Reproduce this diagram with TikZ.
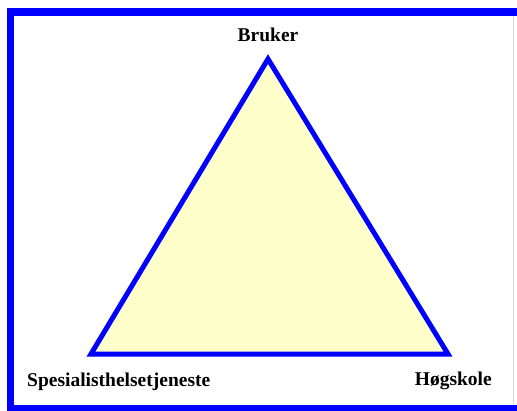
\documentclass[tikz,border=0pt]{standalone}
\usepackage{fontspec}
\setmainfont{Liberation Serif}
\usetikzlibrary{positioning}
\definecolor{rimblue}{HTML}{0000FF}
\definecolor{paleyellow}{HTML}{FFFFCC}
\tikzset{
  rim/.style   ={draw=rimblue,line width=7.5pt},
  tri/.style   ={draw=rimblue,line width=5pt,line join=miter,fill=paleyellow},
  corner/.style={font=\fontsize{19.5}{22}\selectfont\bfseries,inner sep=0pt}
}

\begin{document}
\begin{tikzpicture}[x=1pt,y=-1pt]
    \useasboundingbox (0,0) rectangle (517,410);
    % outer frame
    \coordinate (tl) at (10.5,12);
    \coordinate (br) at (540,409);
    \draw[rim] (tl) rectangle (br);
    \coordinate (rt) at (513,16);
    \coordinate (rb) at (513,405);
    \draw[black!15,line width=0.8pt] (rt) -- (rb);
    % triangle
    \coordinate (top) at (268,59);
    \coordinate (left) at (91,354);
    \coordinate (right) at (448,354);
    \draw[tri] (top) -- (left) -- (right) -- cycle;
    % labels
    \node[corner,anchor=base] (bruker) at (268,41.5) {Bruker};
    \node[corner,anchor=base west] (spes) at (27,386) {Spesialisthelsetjeneste};
    \node[corner,anchor=base east] (hogskole) at (492,385) {Høgskole};
\end{tikzpicture}
\end{document}
